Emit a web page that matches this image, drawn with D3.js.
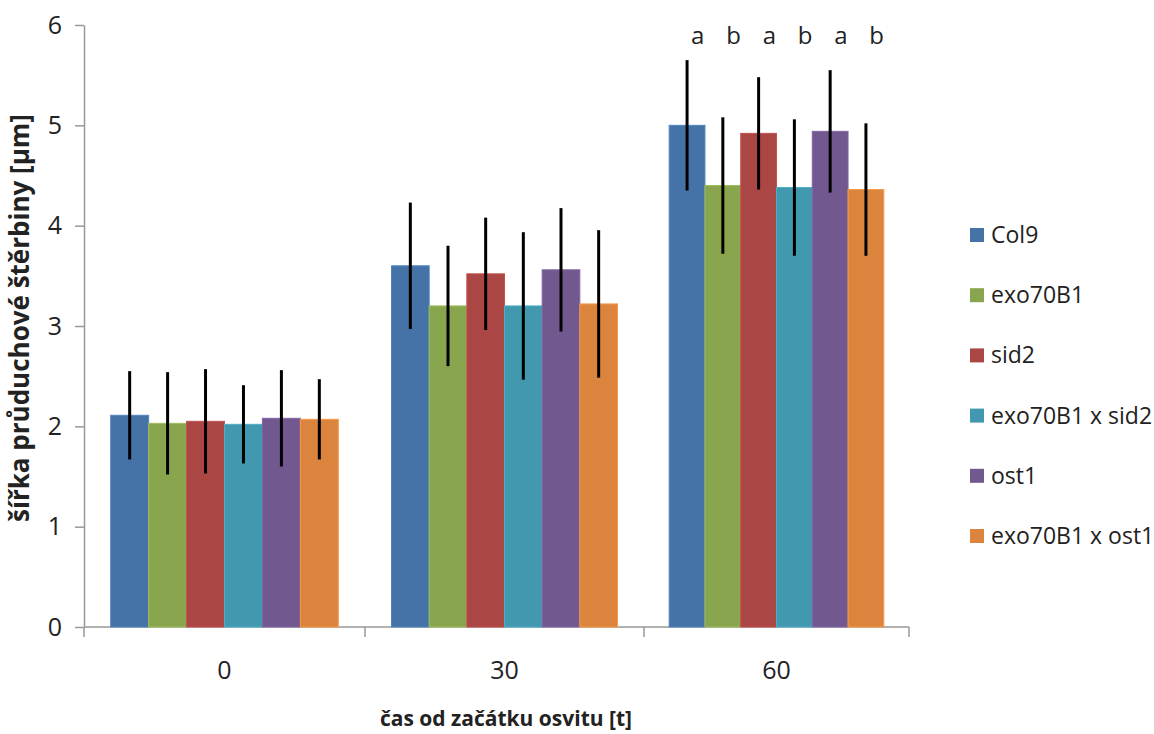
<!DOCTYPE html>
<html>
<head>
<meta charset="utf-8">
<script src="https://cdn.jsdelivr.net/npm/d3@7"></script>
<style>
  body { margin: 0; background: #fff; }
  text { font-family: "Open Sans", sans-serif; fill: #222; }
</style>
</head>
<body>
<div id="chart"></div>
<script>
// categories and series
const times = ['0', '30', '60'];
const lines = ['Col9', 'exo70B1', 'sid2', 'exo70B1 x sid2', 'ost1', 'exo70B1 x ost1'];
const colors = ['#4572A7', '#89A54E', '#AA4643', '#4198AF', '#71588F', '#DB843D'];

// mean values per line, one entry per time
const means = [
    [2.11, 3.60, 5.00],
    [2.03, 3.20, 4.40],
    [2.05, 3.52, 4.92],
    [2.02, 3.20, 4.38],
    [2.08, 3.56, 4.94],
    [2.07, 3.22, 4.36]
];
// error bar half-lengths
const errs = [
    [0.44, 0.63, 0.65],
    [0.51, 0.60, 0.68],
    [0.52, 0.56, 0.56],
    [0.39, 0.735, 0.68],
    [0.48, 0.615, 0.61],
    [0.40, 0.735, 0.66]
];
// significance letters above the 60 group
const letters = ['a', 'b', 'a', 'b', 'a', 'b'];
const yTicks = [0, 1, 2, 3, 4, 5, 6];

const width = 1154;
const height = 734;

const svg = d3.select('#chart')
    .append('svg')
    .attr('width', width)
    .attr('height', height);

// the source plot has slightly uneven category widths
const xEdge = d3.scaleLinear()
    .domain([0, 1, 2, 3])
    .range([84, 365, 644, 909]);

const y = d3.scaleLinear()
    .domain([0, 6])
    .range([627, 25]);

const fill = 0.81; // share of a category taken by the bars

function barX(t, s) {
    const x0 = xEdge(t), x1 = xEdge(t + 1);
    const w = (x1 - x0) * fill;
    const start = (x0 + x1) / 2 - w / 2;
    return { x: start + s * w / lines.length, w: w / lines.length };
}

// y axis
const yAxis = svg.append('g')
    .attr('transform', 'translate(84,0)')
    .call(d3.axisLeft(y).tickValues(yTicks).tickFormat(d3.format('d'))
        .tickSize(9).tickPadding(13).tickSizeOuter(0));
yAxis.select('.domain').attr('stroke', '#999').attr('stroke-width', 1.5);
yAxis.selectAll('.tick line').attr('stroke', '#999').attr('stroke-width', 1.5);
yAxis.selectAll('.tick text')
    .style('font-size', '25px')
    .style('font-family', '"Open Sans", sans-serif')
    .attr('fill', '#222');

// x axis line with boundary ticks
const xg = svg.append('g');
xg.append('line')
    .attr('x1', xEdge(0)).attr('x2', xEdge(3))
    .attr('y1', y(0)).attr('y2', y(0))
    .attr('stroke', '#999').attr('stroke-width', 1.5);
xg.selectAll('.xt')
    .data([0, 1, 2, 3])
    .enter()
    .append('line')
    .attr('x1', d => xEdge(d)).attr('x2', d => xEdge(d))
    .attr('y1', y(0)).attr('y2', y(0) + 10)
    .attr('stroke', '#999').attr('stroke-width', 1.5);
xg.selectAll('.xl')
    .data(times)
    .enter()
    .append('text')
    .attr('x', (d, i) => (xEdge(i) + xEdge(i + 1)) / 2)
    .attr('y', 679)
    .attr('text-anchor', 'middle')
    .style('font-size', '25px')
    .text(d => d);

// bars
lines.forEach((name, s) => {
    const g = svg.append('g');
    g.selectAll('rect')
        .data(means[s])
        .enter()
        .append('rect')
        .attr('x', (d, t) => barX(t, s).x)
        .attr('width', (d, t) => barX(t, s).w)
        .attr('y', d => y(d))
        .attr('height', d => y(0) - y(d))
        .attr('fill', colors[s])
        .attr('stroke', d3.color(colors[s]).brighter(0.4))
        .attr('stroke-width', 1);
});

// error bars
lines.forEach((name, s) => {
    svg.append('g').selectAll('line')
        .data(means[s])
        .enter()
        .append('line')
        .attr('x1', (d, t) => barX(t, s).x + barX(t, s).w / 2)
        .attr('x2', (d, t) => barX(t, s).x + barX(t, s).w / 2)
        .attr('y1', (d, t) => y(d + errs[s][t]))
        .attr('y2', (d, t) => y(d - errs[s][t]))
        .attr('stroke', '#000')
        .attr('stroke-width', 3);
});

// letters above the last group
svg.append('g').selectAll('text')
    .data(letters)
    .enter()
    .append('text')
    .attr('x', (d, s) => barX(2, s).x + barX(2, s).w * 0.8)
    .attr('y', 44)
    .attr('text-anchor', 'middle')
    .style('font-size', '24px')
    .attr('fill', '#000')
    .text(d => d);

// axis titles
svg.append('text')
    .attr('transform', 'translate(29,318) rotate(-90)')
    .attr('text-anchor', 'middle')
    .style('font-size', '26px')
    .style('font-weight', 'bold')
    .attr('fill', '#111')
    .text('šířka průduchové štěrbiny [µm]');

svg.append('text')
    .attr('x', 506)
    .attr('y', 726)
    .attr('text-anchor', 'middle')
    .style('font-size', '21px')
    .style('font-weight', 'bold')
    .attr('fill', '#111')
    .text('čas od začátku osvitu [t]');

// legend
const legend = svg.append('g').attr('transform', 'translate(970,0)');
const items = legend.selectAll('g')
    .data(lines)
    .enter()
    .append('g')
    .attr('transform', (d, i) => `translate(0, ${235 + i * 60.2})`);
items.append('rect')
    .attr('x', 0).attr('y', -7)
    .attr('width', 14).attr('height', 14)
    .attr('fill', (d, i) => colors[i]);
items.append('text')
    .attr('x', 21)
    .attr('y', 8)
    .style('font-size', '23px')
    .text(d => d);
</script>
</body>
</html>
